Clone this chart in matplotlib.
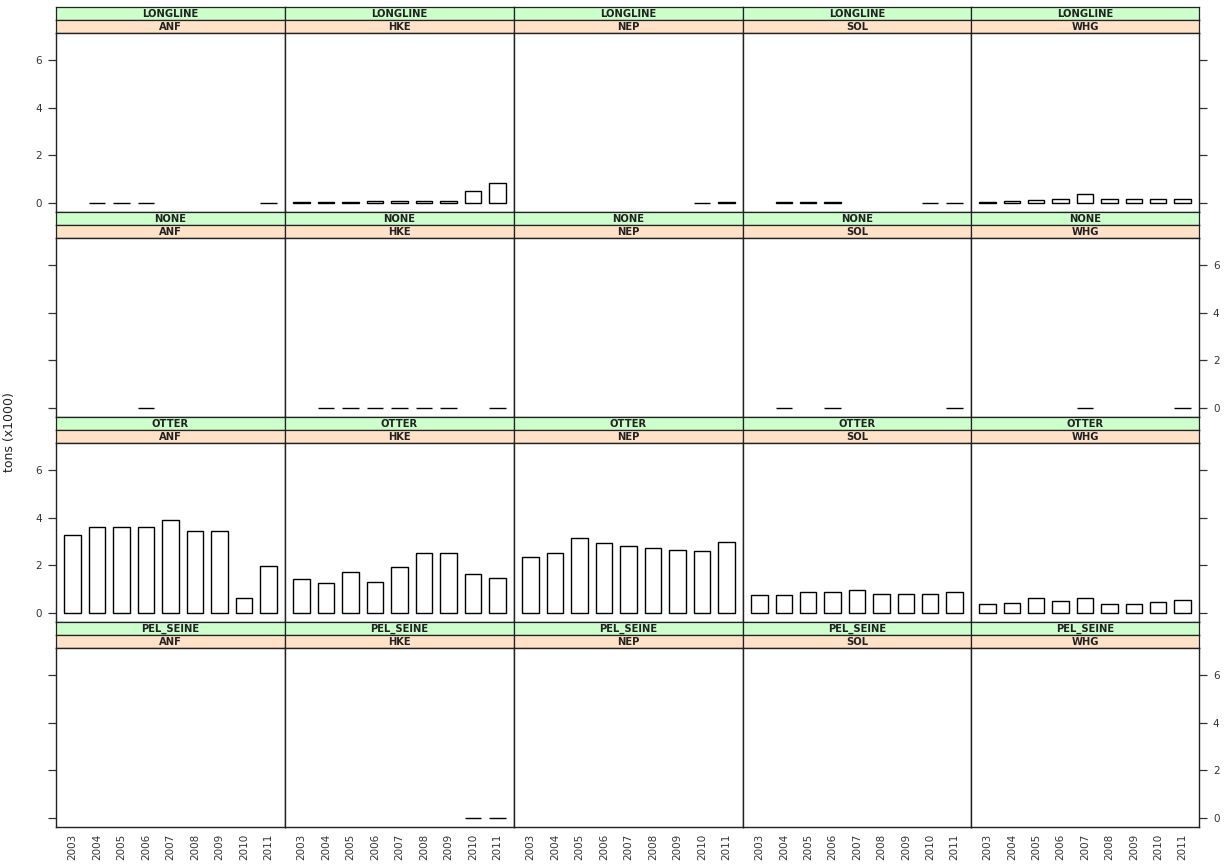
import numpy as np
import matplotlib
matplotlib.use("Agg")
import matplotlib.pyplot as plt

nan = np.nan
years = ["2003", "2004", "2005", "2006", "2007", "2008", "2009", "2010", "2011"]
gears = ["LONGLINE", "NONE", "OTTER", "PEL_SEINE"]
species = ["ANF", "HKE", "NEP", "SOL", "WHG"]

# tons (x1000), NaN = no landing
longline_anf = [nan, 0.01, 0.01, 0.01, nan, nan, nan, nan, 0.01]
longline_hke = [0.03, 0.03, 0.03, 0.1, 0.1, 0.1, 0.1, 0.5, 0.84]
longline_nep = [nan, nan, nan, nan, nan, nan, nan, 0.01, 0.03]
longline_sol = [nan, 0.03, 0.03, 0.03, nan, nan, nan, 0.01, 0.01]
longline_whg = [0.03, 0.08, 0.14, 0.18, 0.36, 0.18, 0.18, 0.18, 0.18]

none_anf = [nan, nan, nan, 0.01, nan, nan, nan, nan, nan]
none_hke = [nan, 0.01, 0.01, 0.01, 0.01, 0.01, 0.01, nan, 0.01]
none_nep = [nan] * 9
none_sol = [nan, 0.01, nan, 0.01, nan, nan, nan, nan, 0.01]
none_whg = [nan, nan, nan, nan, 0.01, nan, nan, nan, 0.01]

otter_anf = [3.28, 3.62, 3.62, 3.62, 3.92, 3.43, 3.43, 0.61, 1.98]
otter_hke = [1.42, 1.25, 1.72, 1.28, 1.92, 2.50, 2.50, 1.62, 1.46]
otter_nep = [2.36, 2.50, 3.13, 2.95, 2.80, 2.71, 2.66, 2.61, 3.00]
otter_sol = [0.75, 0.75, 0.90, 0.90, 0.95, 0.80, 0.80, 0.80, 0.90]
otter_whg = [0.36, 0.41, 0.61, 0.51, 0.61, 0.36, 0.36, 0.46, 0.55]

pel_anf = [nan] * 9
pel_hke = [nan, nan, nan, nan, nan, nan, nan, 0.01, 0.01]
pel_nep = [nan] * 9
pel_sol = [nan] * 9
pel_whg = [nan] * 9

grid = [
    [longline_anf, longline_hke, longline_nep, longline_sol, longline_whg],
    [none_anf, none_hke, none_nep, none_sol, none_whg],
    [otter_anf, otter_hke, otter_nep, otter_sol, otter_whg],
    [pel_anf, pel_hke, pel_nep, pel_sol, pel_whg],
]

W, H = 1230, 866
fig = plt.figure(figsize=(W / 100, H / 100), dpi=100)
fig.patch.set_facecolor("white")

col_edges = [56, 285, 514, 743, 971, 1199]
row_top = [7, 212, 417, 622]
strip_h = 13
panel_h = 179

green = "#ccffcc"
orange = "#ffe2c8"
frame_c = "#222222"

def px_axes(x0, y0, x1, y1):
    return fig.add_axes([x0 / W, 1 - y1 / H, (x1 - x0) / W, (y1 - y0) / H])

x = np.arange(1, 10)
for r in range(4):
    for c in range(5):
        x0, x1 = col_edges[c], col_edges[c + 1]
        t = row_top[r]
        # strips
        for k, (lab, col) in enumerate([(gears[r], green), (species[c], orange)]):
            sa = px_axes(x0, t + k * strip_h, x1, t + (k + 1) * strip_h)
            sa.set_facecolor(col)
            sa.set_xticks([]); sa.set_yticks([])
            for s in sa.spines.values():
                s.set_color(frame_c); s.set_linewidth(0.9)
            sa.text(0.5, 0.45, lab, ha="center", va="center", fontsize=7.2,
                    fontweight="bold", color="#222222", transform=sa.transAxes)
        ax = px_axes(x0, t + 2 * strip_h, x1, t + 2 * strip_h + panel_h)
        vals = np.array(grid[r][c], dtype=float)
        m = ~np.isnan(vals)
        ax.bar(x[m], vals[m], width=0.67, facecolor="white", edgecolor="black",
               linewidth=1.0)
        ax.set_xlim(0.33, 9.67)
        ax.set_ylim(-0.38, 7.14)
        for s in ax.spines.values():
            s.set_color(frame_c); s.set_linewidth(1.0)
        # y ticks on outer sides, labels alternating
        ax.set_yticks([0, 2, 4, 6])
        ax.tick_params(axis="y", length=6, width=0.9, colors="#333333",
                       labelsize=7.5, pad=4)
        ax.tick_params(axis="y", left=(c == 0), right=(c == 4),
                       labelleft=(c == 0 and r % 2 == 0),
                       labelright=(c == 4 and r % 2 == 1))
        ax.set_xticks(x)
        if r == 3:
            ax.set_xticklabels(years, rotation=90, fontsize=7.5, color="#333333")
            ax.tick_params(axis="x", length=0, pad=5)
        else:
            ax.tick_params(axis="x", length=0, labelbottom=False)

fig.text(10 / W, 1 - 432 / H, "tons (x1000)", rotation=90, ha="center",
         va="center", fontsize=9, color="#222222")

fig.savefig("out.png", dpi=100, facecolor="white")
